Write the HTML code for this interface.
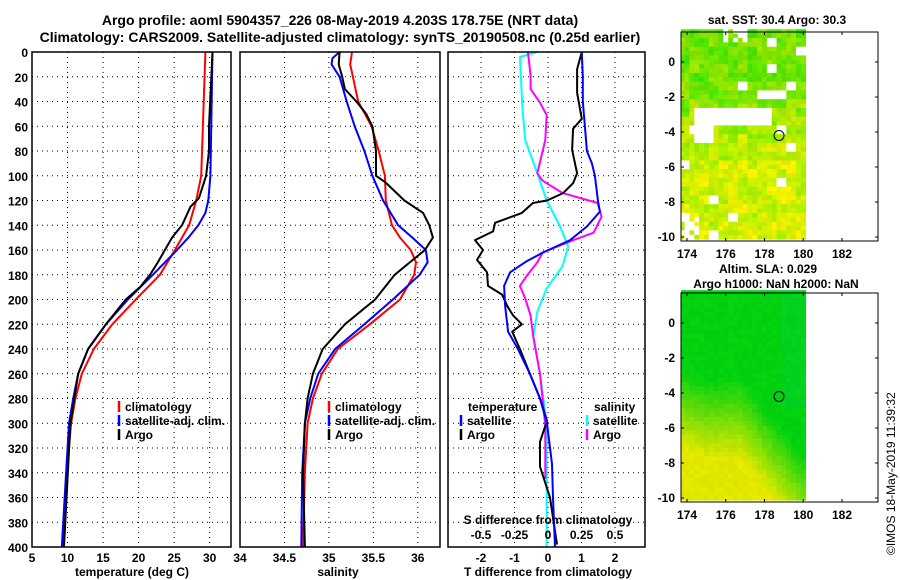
<!DOCTYPE html>
<html><head><meta charset="utf-8"><style>
body{margin:0;background:#fff}
svg{display:block;font-family:"Liberation Sans",Arial,sans-serif;font-weight:bold}
</style></head><body>
<svg id="s" width="900" height="580" viewBox="0 0 900 580" xmlns="http://www.w3.org/2000/svg">
<text x="340" y="25" font-size="14" text-anchor="middle">Argo profile: aoml 5904357_226 08-May-2019 4.203S 178.75E (NRT data)</text>
<text x="340" y="42" font-size="14" text-anchor="middle">Climatology: CARS2009. Satellite-adjusted climatology: synTS_20190508.nc (0.25d earlier)</text>
<text transform="translate(895,555) rotate(-90)" font-size="12" font-weight="normal">©IMOS 18-May-2019 11:39:32</text>
</svg>
<script>
// ---- data ----
const tClimDepth=[0,100,120,140,160,180,200,220,240,260,280,300,340,400];
const tClim=[29.4,28.8,28.1,27.1,25.1,23.0,19.6,16.3,13.7,12.0,11.1,10.5,9.9,9.4];
const tSatDepth=[0,100,120,130,140,150,160,180,200,220,240,260,280,300,340,400];
const tSat=[30.4,30.1,29.8,29.4,28.4,27.0,25.4,22.0,18.5,15.4,12.9,11.5,10.8,10.2,9.8,9.2];
const tArgoDepth=[0,60,80,100,118,125,140,150,160,170,180,190,200,220,240,260,300,400];
const tArgo=[30.4,29.9,29.9,29.5,28.5,27.3,26.1,24.7,23.7,22.7,21.6,20.2,18.2,15.4,12.9,11.5,10.4,9.5];
const sClimDepth=[0,10,20,40,60,80,100,120,140,150,160,170,180,200,220,240,260,280,300,340,400];
const sClim=[35.26,35.24,35.27,35.33,35.48,35.56,35.63,35.64,35.71,35.8,35.92,35.98,35.96,35.8,35.46,35.1,34.92,34.82,34.76,34.73,34.71];
const sSatDepth=[0,5,10,20,40,60,80,100,120,140,150,160,170,180,200,220,240,260,280,300,340,400];
const sSat=[35.12,35.04,35.03,35.12,35.2,35.29,35.4,35.49,35.61,35.78,35.94,36.09,36.11,36.02,35.72,35.4,35.07,34.88,34.79,34.73,34.7,34.69];
const sArgoDepth=[0,10,20,30,40,50,60,80,100,105,120,130,140,150,160,170,180,200,220,240,260,280,300,340,400];
const sArgo=[35.12,35.11,35.15,35.18,35.31,35.42,35.49,35.53,35.53,35.63,35.85,36.06,36.13,36.17,36.08,35.91,35.74,35.52,35.18,34.93,34.82,34.76,34.73,34.71,34.73];
const dtSatDepth=[0,20,40,60,80,90,100,120,129,141,152,162,169,178,189,205,226,240,260,280,300,333,360,400];
const dtSat=[1.01,1.04,1.04,1.1,1.16,1.31,1.4,1.49,1.55,1.16,0.66,-0.15,-0.63,-1.13,-1.31,-1.28,-1.19,-0.9,-0.54,-0.24,-0.03,0.12,0.15,0.21];
const dtArgoDepth=[0,14,33,54,62,79,98,106,114,120,122,130,138,145,152,160,168,178,189,196,205,213,220,226,240,260,280,298,315,335,360,398];
const dtArgo=[1.01,0.87,0.87,1.01,0.75,0.72,0.87,0.75,0.45,-0.03,-0.45,-0.78,-1.58,-1.64,-2.18,-1.94,-2.12,-1.82,-1.79,-1.37,-1.22,-1.04,-0.78,-1.07,-0.84,-0.54,-0.24,-0.03,-0.24,-0.24,0.06,0.27];
const dsSatDepth=[0,4,46,71,98,120,141,157,173,191,210,230,260,300,400];
const dsSat=[-0.08,-0.21,-0.19,-0.17,-0.08,-0.01,0.09,0.15,0.11,-0.01,-0.08,-0.11,-0.06,-0.01,-0.01];
const dsArgoDepth=[0,19,30,41,51,71,98,104,114,122,133,146,152,162,170,181,189,199,213,230,260,302,345];
const dsArgo=[-0.15,-0.13,-0.13,-0.06,-0.01,-0.02,-0.08,-0.04,0.11,0.37,0.4,0.34,0.19,-0.04,-0.08,-0.16,-0.21,-0.17,-0.13,-0.11,-0.06,-0.02,-0.02];
const depthTicks=[0,20,40,60,80,100,120,140,160,180,200,220,240,260,280,300,320,340,360,380,400];
const tTicks=[5,10,15,20,25,30];
const sTicks=[34,34.5,35,35.5,36];
const dtTicks=[-2,-1,0,1,2];
const dsTicks=[-0.5,-0.25,0,0.25,0.5];
const dsTickLabels=["-0.5","-0.25","0","0.25","0.5"];
const lonTicks=[174,176,178,180,182];
const latTicks=[0,-2,-4,-6,-8,-10];
const argoLon=178.75, argoLat=-4.2;

const S=document.getElementById('s');const NS='http://www.w3.org/2000/svg';
function mk(t,a,p){const e=document.createElementNS(NS,t);for(const k in a)e.setAttribute(k,a[k]);(p||S).appendChild(e);return e;}
const Y0=52,Y1=547;
const yD=d=>Y0+d*(Y1-Y0)/400;
function lin(d0,d1,r0,r1){return v=>r0+(v-d0)*(r1-r0)/(d1-d0);}
const xT=lin(5,33,32,231), xS=lin(34,36.25,240,440), xDT=lin(0,1,548,581.5), xDS=lin(0,0.25,548,581.5);

function panel(name,x0,x1,xs,ticks,labels,ly){
  const g=mk('g',{});
  depthTicks.forEach(d=>{if(d>0&&d<400){const l=mk('line',{x1:x0,x2:x1,y1:yD(d),y2:yD(d),stroke:'#000','stroke-width':1,'stroke-dasharray':'1,4'},g);}});
  ticks.forEach(v=>{const x=xs(v);if(x>x0+2&&x<x1-2){const l=mk('line',{x1:x,x2:x,y1:Y0,y2:Y1,stroke:'#000','stroke-width':1,'stroke-dasharray':'1,4'},g);}});
  ticks.forEach((v,i)=>{const t=mk('text',{x:xs(v),y:ly,'font-size':12,'text-anchor':'middle'},g);t.textContent=labels?labels[i]:String(v);});
  return g;
}
function frame(name,x0,x1){const r=mk('rect',{x:x0,y:Y0,width:x1-x0,height:Y1-Y0,fill:'none',stroke:'#000','stroke-width':1.5});}
function series(name,ds,vs,xs,col,w){const pts=ds.map((d,i)=>xs(vs[i]).toFixed(1)+','+yD(d).toFixed(1)).join(' ');const p=mk('polyline',{points:pts,fill:'none',stroke:col,'stroke-width':w||2,'stroke-linejoin':'round'});}
function txt(name,x,y,s,size,anchor){const t=mk('text',{x:x,y:y,'font-size':size||12,'text-anchor':anchor||'start'});t.textContent=s;return t;}
function legItem(name,x,y,col,label){const l=mk('line',{x1:x,x2:x,y1:y-10,y2:y+1,stroke:col,'stroke-width':2.5});txt(name,x+6,y,label);}

depthTicks.forEach(d=>{txt('y-tick-label',28,yD(d)+5,String(d),12,'end');});
panel('temperature-panel',32,231,xT,tTicks,null,562);
series('temp-climatology',tClimDepth,tClim,xT,'#f00');
series('temp-satellite-adj',tSatDepth,tSat,xT,'#00f');
series('temp-argo',tArgoDepth,tArgo,xT,'#000');
frame('temperature-frame',32,231);
txt('x-axis-title-temperature',132,576,'temperature (deg C)',12,'middle');
legItem('legend-climatology',119,411,'#f00','climatology');
legItem('legend-satellite-adj',119,425,'#00f','satellite-adj. clim.');
legItem('legend-argo',119,439,'#000','Argo');
panel('salinity-panel',240,440,xS,sTicks,null,562);
series('sal-climatology',sClimDepth,sClim,xS,'#f00');
series('sal-satellite-adj',sSatDepth,sSat,xS,'#00f');
series('sal-argo',sArgoDepth,sArgo,xS,'#000');
frame('salinity-frame',240,440);
txt('x-axis-title-salinity',338,576,'salinity',12,'middle');
legItem('legend2-climatology',329,411,'#f00','climatology');
legItem('legend2-satellite-adj',329,425,'#00f','satellite-adj. clim.');
legItem('legend2-argo',329,439,'#000','Argo');
panel('difference-panel',448,645,xDT,dtTicks,null,562);
series('sal-diff-satellite',dsSatDepth,dsSat,xDS,'#0ff');
series('sal-diff-argo',dsArgoDepth,dsArgo,xDS,'#f0f');
series('temp-diff-argo',dtArgoDepth,dtArgo,xDT,'#000');
series('temp-diff-satellite',dtSatDepth,dtSat,xDT,'#00f');
frame('difference-frame',448,645);
dsTicks.forEach((v,i)=>txt('s-tick-label',xDS(v),539,dsTickLabels[i],12,'middle'));
txt('s-axis-title',548,524,'S difference from climatology',12,'middle');
txt('x-axis-title-t-diff',548,576,'T difference from climatology',12,'middle');
txt('legend-temperature-heading',468,411,'temperature');
legItem('legend3-t-satellite',461,425,'#00f','satellite');
legItem('legend3-t-argo',461,439,'#000','Argo');
txt('legend-salinity-heading',594,411,'salinity');
legItem('legend3-s-satellite',587,425,'#0ff','satellite');
legItem('legend3-s-argo',587,439,'#f0f','Argo');

// ---- maps ----
function hash(i,j,k){let h=(i*73856093)^(j*19349663)^(k*83492791);h=(h^(h>>>13))*1274126177;h=h^(h>>>16);return ((h>>>0)%1000)/1000;}
function map(name,top,bot,lat0y,lat10y,kind){
  const g=mk('g',{});
  const xl=lin(174,182,687,842), yl=lin(0,-10,lat0y,lat10y);
  const cw=xl(174.25)-xl(174), ch=yl(-0.25)-yl(0);
  for(let i=0;i<26;i++)for(let j=0;j<48;j++){
    const lon=173.75+i*0.25, lat=1.75-j*0.25;
    let r,gg,b=0,white=false;
    const h=hash(i,j,kind), h2=hash(i>>1,j>>1,kind+7);
    if(kind===1){
      const yy=Math.min(1,Math.max(0,(-lat-1)/5));
      r=Math.round(110+yy*100+(h2-0.5)*90+(h-0.5)*40);gg=Math.round(228+yy*12+(h-0.5)*16);
      if(h2>0.94)white=true;
      if(lat<-2.7&&lat>-3.6&&lon<178.5&&lon>174.3)white=true;
      if(lat<-3.5&&lat>-4.7&&lon<175.5&&lon>174.4)white=true;
      if(lat>1.0&&lon>175.8&&lon<177.5&&hash(i,j,9)>0.4)white=true;
      if(lat<-8.8&&lon<174.6&&hash(i,j,5)>0.3)white=true;
    } else {
      let yy=(-lat-3.2)/4.5 - Math.max(0,lon-176.8)*0.3 + Math.max(0,175-lon)*0.1;
      yy=Math.min(1,Math.max(0,yy));
      r=Math.round(yy*225+(h-0.5)*15);gg=Math.round(210+yy*22+(h-0.5)*8);
      b=Math.round(30*(1-yy)*(lon>178.8&&lat>-5?1:0.5));
    }
    r=Math.max(0,Math.min(255,r));gg=Math.max(0,Math.min(255,gg));
    mk('rect',{x:xl(lon-0.125).toFixed(1),y:yl(lat+0.125).toFixed(1),width:cw+0.4,height:ch+0.4,fill:white?'#fff':'rgb('+r+','+gg+','+b+')'},g);
  }
  mk('rect',{x:xl(180.25),y:top,width:880-xl(180.25),height:bot-top,fill:'#fff'},g);
  mk('rect',{x:670,y:top-20,width:11,height:bot-top+40,fill:'#fff'},g);
  const fr=mk('rect',{x:681,y:top,width:197,height:bot-top,fill:'none',stroke:'#000','stroke-width':1},g);
  
  const c=mk('circle',{cx:xl(argoLon),cy:yl(argoLat),r:5,fill:'none',stroke:'#000','stroke-width':1},g);
  
  lonTicks.forEach(v=>{mk('line',{x1:xl(v),x2:xl(v),y1:top,y2:top+3,stroke:'#000'},g);mk('line',{x1:xl(v),x2:xl(v),y1:bot,y2:bot-3,stroke:'#000'},g);
    txt('lon-tick-label',xl(v),bot+17,String(v),12,'middle');});
  latTicks.forEach(v=>{mk('line',{x1:681,x2:684,y1:yl(v),y2:yl(v),stroke:'#000'},g);mk('line',{x1:878,x2:875,y1:yl(v),y2:yl(v),stroke:'#000'},g);
    txt('lat-tick-label',675,yl(v)+4,String(v),12,'end');});
}
map('sst-map',32,241,62,237,1);
map('sla-map',293,502,323,498,2);
txt('sst-map-title',777,24,'sat. SST: 30.4 Argo: 30.3',12,'middle');
txt('sla-map-title-1',768,273,'Altim. SLA: 0.029',12,'middle');
txt('sla-map-title-2',776,288,'Argo h1000: NaN h2000: NaN',12,'middle');
</script>
</body></html>
